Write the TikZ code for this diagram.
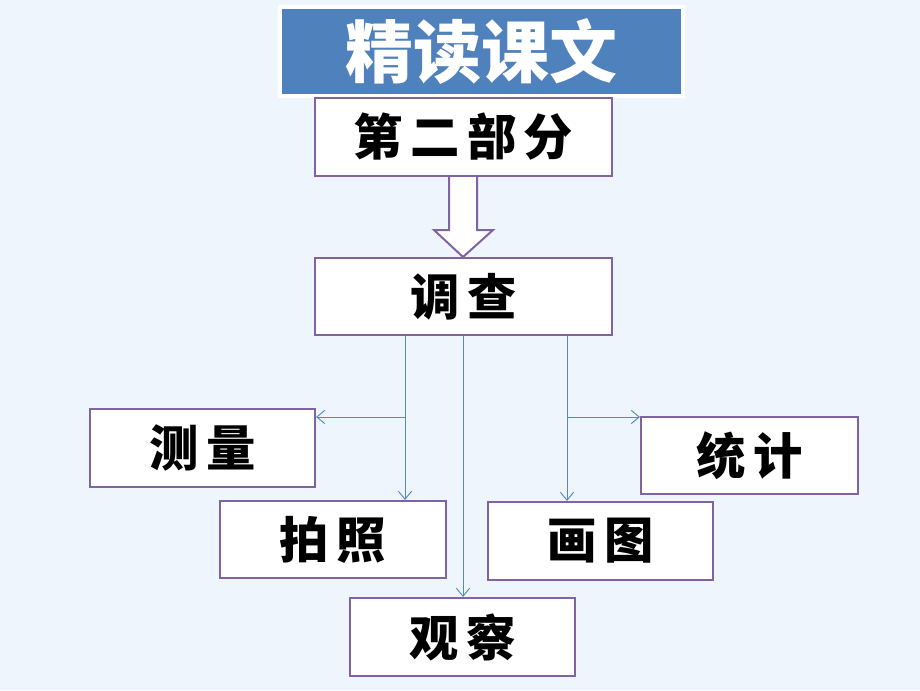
\documentclass[tikz,border=0pt]{standalone}
\usepackage{fontspec}
\usetikzlibrary{arrows.meta}
\newfontfamily\cjkbox{Noto Sans CJK SC}[LetterSpace=15]
\newfontfamily\cjktitle{Noto Sans CJK SC}
\definecolor{bgc}{HTML}{EEF5FC}
\definecolor{titleblue}{HTML}{4F81BD}
\definecolor{boxpurple}{HTML}{8064A2}
\definecolor{connblue}{HTML}{5B87C0}
\tikzset{
  box/.style={draw=boxpurple, line width=1.6pt, fill=white, inner sep=0pt,
    font=\cjkbox\bfseries\fontsize{37}{42}\selectfont, text=black},
  conn/.style={draw=connblue, line width=0.7pt},
  carrow/.style={conn, -{Straight Barb[length=6pt,width=10pt]}},
}
\begin{document}
\begin{tikzpicture}[x=0.75pt,y=-0.75pt]
\fill[bgc] (0,0) rectangle (920,690);
\useasboundingbox (0,0) rectangle (920,690);
% title
\node[draw=white, line width=3pt, fill=titleblue, inner sep=0pt,
  minimum width=302pt, minimum height=67pt, text=white,
  font=\cjktitle\bfseries\fontsize{51}{54}\selectfont] (title) at (481.5,51.5) {精读课文};
% boxes
\node[box, minimum width=222.75pt, minimum height=58.5pt] (part) at (463.5,137) {第二部分};
\node[box, minimum width=222.75pt, minimum height=57.75pt] (dc) at (463.5,296.5) {调查};
\node[box, minimum width=168.75pt, minimum height=58.5pt] (cl) at (202.5,448) {测量};
\node[box, minimum width=169.5pt, minimum height=57.75pt] (pz) at (333,539.5) {拍照};
\node[box, minimum width=162.75pt, minimum height=57.75pt] (tj) at (749.5,455.5) {统计};
\node[box, minimum width=168.75pt, minimum height=58.5pt] (ht) at (600.5,541) {画图};
\node[box, minimum width=168.75pt, minimum height=58.5pt] (gc) at (462.5,637) {观察};
% hollow arrow
\draw[draw=boxpurple, line width=1.5pt, fill=white, line join=miter]
  (449,177) -- (449,230) -- (434,230) -- (463,257) -- (493,230) -- (477,230) -- (477,177);
% connectors
\coordinate (s1) at (405,336);
\coordinate (s2) at (463,336);
\coordinate (s3) at (567,336);
\coordinate (j1) at (405,417);
\coordinate (j3) at (567,417);
\draw[carrow] (s1) -- (s1 |- pz.north);
\draw[carrow] (j1) -- (j1 -| cl.east);
\draw[carrow] (s2) -- (s2 |- gc.north);
\draw[carrow] (s3) -- (s3 |- ht.north);
\draw[carrow] (j3) -- (j3 -| tj.west);
\end{tikzpicture}
\end{document}
